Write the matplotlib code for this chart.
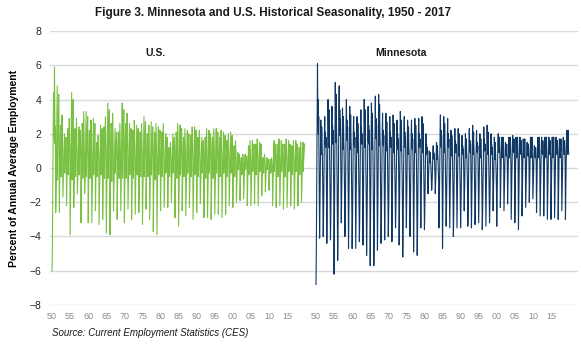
import numpy as np
import matplotlib
matplotlib.use("Agg")
import matplotlib.pyplot as plt
from matplotlib import font_manager

# Monthly employment as percent of annual average, one row of 12 months per year
US_1950S = [
    -6.0, -4.7, -2.0, 0.5, 2.2, 4.4, 1.8, 3.5, 5.9, 3.2, 1.4, 2.4,
    -2.6, -1.6, -0.7, 1.0, 2.9, 4.8, -0.7, 1.2, 2.2, 3.4, 4.3, 2.4,
    -2.6, -1.2, -0.3, 1.2, 2.5, 2.2, -0.5, 0.9, 1.9, 3.1, 2.2, 0.9,
    -1.7, -1.0, -0.4, 0.4, 1.2, 2.0, -0.3, 0.5, 0.9, 1.4, 1.8, 1.0,
    -2.2, -1.0, -0.2, 1.2, 2.3, 2.0, -0.4, 0.9, 1.7, 2.9, 2.0, 0.9,
    -3.9, -2.3, -1.0, 0.9, 2.6, 4.4, -0.7, 1.1, 2.0, 3.1, 4.0, 2.2,
    -2.3, -1.0, -0.2, 1.2, 2.3, 2.0, -0.5, 0.9, 1.7, 2.9, 2.0, 0.9,
    -1.5, -0.9, -0.4, 0.5, 1.4, 2.4, -0.4, 0.6, 1.1, 1.7, 2.2, 1.2,
    -3.2, -1.4, -0.3, 1.3, 2.6, 2.3, -0.6, 1.0, 2.0, 3.3, 2.3, 1.0,
    -1.5, -0.9, -0.4, 0.7, 2.0, 3.3, -0.5, 0.8, 1.5, 2.3, 3.0, 1.7,
]
US_1960S = [
    -3.2, -1.4, -0.3, 1.1, 2.2, 2.0, -0.6, 0.8, 1.7, 2.8, 2.0, 0.8,
    -3.2, -1.9, -0.8, 0.6, 1.7, 2.9, -0.4, 0.7, 1.3, 2.0, 2.6, 1.5,
    -2.5, -1.1, -0.3, 0.8, 1.5, 1.3, -0.5, 0.6, 1.1, 1.9, 1.3, 0.6,
    -3.3, -2.0, -0.8, 0.5, 1.5, 2.5, -0.4, 0.6, 1.1, 1.8, 2.3, 1.3,
    -3.0, -1.4, -0.3, 1.2, 2.4, 2.1, -0.6, 0.9, 1.8, 3.0, 2.1, 0.9,
    -3.8, -2.3, -1.0, 0.8, 2.3, 3.8, -0.6, 1.0, 1.7, 2.7, 3.4, 1.9,
    -3.9, -1.8, -0.4, 1.3, 2.6, 2.2, -0.8, 1.0, 1.9, 3.2, 2.2, 1.0,
    -2.5, -1.5, -0.6, 0.5, 1.4, 2.3, -0.3, 0.6, 1.0, 1.6, 2.1, 1.2,
    -3.0, -1.4, -0.3, 1.0, 2.1, 1.8, -0.6, 0.8, 1.6, 2.6, 1.8, 0.8,
    -2.5, -1.5, -0.6, 0.8, 2.3, 3.8, -0.6, 1.0, 1.7, 2.7, 3.4, 1.9,
]
US_1970S = [
    -3.2, -1.4, -0.3, 1.3, 2.6, 2.2, -0.6, 1.0, 1.9, 3.2, 2.2, 1.0,
    -2.4, -1.4, -0.6, 0.5, 1.6, 2.6, -0.4, 0.7, 1.2, 1.8, 2.3, 1.3,
    -3.0, -1.4, -0.3, 1.1, 2.2, 2.0, -0.6, 0.8, 1.7, 2.8, 2.0, 0.8,
    -2.7, -1.6, -0.7, 0.5, 1.5, 2.5, -0.4, 0.6, 1.1, 1.8, 2.3, 1.3,
    -2.6, -1.2, -0.3, 1.0, 2.1, 1.8, -0.5, 0.8, 1.6, 2.6, 1.8, 0.8,
    -3.3, -2.0, -0.8, 0.6, 1.8, 3.0, -0.5, 0.8, 1.4, 2.1, 2.7, 1.5,
    -2.4, -1.1, -0.2, 1.0, 2.0, 1.8, -0.5, 0.8, 1.5, 2.5, 1.8, 0.8,
    -3.0, -1.8, -0.8, 0.5, 1.6, 2.7, -0.4, 0.7, 1.2, 1.9, 2.4, 1.4,
    -3.7, -1.7, -0.4, 1.0, 2.1, 1.8, -0.7, 0.8, 1.6, 2.6, 1.8, 0.8,
    -3.9, -2.3, -1.0, 0.5, 1.4, 2.4, -0.4, 0.6, 1.1, 1.7, 2.2, 1.2,
]
US_1980S = [
    -2.5, -1.1, -0.3, 1.0, 2.1, 1.8, -0.5, 0.8, 1.6, 2.6, 1.8, 0.8,
    -2.3, -1.4, -0.6, 0.4, 1.2, 2.0, -0.3, 0.5, 0.9, 1.4, 1.8, 1.0,
    -2.3, -1.0, -0.2, 0.6, 1.2, 1.1, -0.5, 0.5, 0.9, 1.5, 1.1, 0.5,
    -2.0, -1.2, -0.5, 0.4, 1.2, 2.0, -0.3, 0.5, 0.9, 1.4, 1.8, 1.0,
    -2.9, -1.3, -0.3, 1.0, 2.1, 1.8, -0.6, 0.8, 1.6, 2.6, 1.8, 0.8,
    -3.4, -2.0, -0.9, 0.5, 1.5, 2.5, -0.4, 0.6, 1.1, 1.8, 2.3, 1.3,
    -2.5, -1.1, -0.3, 0.9, 1.8, 1.6, -0.5, 0.7, 1.4, 2.3, 1.6, 0.7,
    -2.8, -1.7, -0.7, 0.4, 1.3, 2.2, -0.3, 0.6, 1.0, 1.5, 2.0, 1.1,
    -2.3, -1.0, -0.2, 1.0, 1.9, 1.7, -0.5, 0.7, 1.4, 2.4, 1.7, 0.7,
    -3.0, -1.8, -0.8, 0.5, 1.4, 2.4, -0.4, 0.6, 1.1, 1.7, 2.2, 1.2,
]
US_1990S = [
    -2.6, -1.2, -0.3, 0.9, 1.8, 1.5, -0.5, 0.7, 1.3, 2.2, 1.5, 0.7,
    -2.1, -1.3, -0.5, 0.4, 1.1, 1.8, -0.3, 0.5, 0.8, 1.3, 1.6, 0.9,
    -2.9, -1.3, -0.3, 0.9, 1.8, 1.6, -0.6, 0.7, 1.4, 2.3, 1.6, 0.7,
    -2.9, -1.7, -0.7, 0.4, 1.3, 2.2, -0.3, 0.6, 1.0, 1.5, 2.0, 1.1,
    -3.0, -1.4, -0.3, 0.9, 1.8, 1.6, -0.6, 0.7, 1.4, 2.3, 1.6, 0.7,
    -2.7, -1.6, -0.7, 0.5, 1.4, 2.3, -0.3, 0.6, 1.0, 1.6, 2.1, 1.2,
    -2.7, -1.2, -0.3, 0.9, 1.8, 1.5, -0.5, 0.7, 1.3, 2.2, 1.5, 0.7,
    -2.9, -1.7, -0.7, 0.4, 1.3, 2.1, -0.3, 0.5, 0.9, 1.5, 1.9, 1.1,
    -2.7, -1.2, -0.3, 0.8, 1.6, 1.4, -0.5, 0.6, 1.2, 2.0, 1.4, 0.6,
    -2.2, -1.3, -0.6, 0.4, 1.3, 2.1, -0.3, 0.5, 0.9, 1.5, 1.9, 1.1,
]
US_2000S = [
    -2.3, -1.0, -0.2, 0.6, 1.3, 1.1, -0.5, 0.5, 1.0, 1.6, 1.1, 0.5,
    -2.0, -1.2, -0.5, 0.2, 0.5, 0.9, -0.1, 0.2, 0.4, 0.6, 0.8, 0.5,
    -1.9, -0.9, -0.2, 0.3, 0.6, 0.6, -0.4, 0.2, 0.5, 0.8, 0.6, 0.2,
    -1.8, -1.1, -0.5, 0.2, 0.5, 0.8, -0.1, 0.2, 0.4, 0.6, 0.7, 0.4,
    -2.2, -1.0, -0.2, 0.6, 1.3, 1.1, -0.4, 0.5, 1.0, 1.6, 1.1, 0.5,
    -2.2, -1.3, -0.6, 0.3, 1.0, 1.6, -0.2, 0.4, 0.7, 1.1, 1.4, 0.8,
    -2.1, -0.9, -0.2, 0.7, 1.4, 1.2, -0.4, 0.5, 1.0, 1.7, 1.2, 0.5,
    -2.2, -1.3, -0.6, 0.3, 0.9, 1.5, -0.2, 0.4, 0.7, 1.1, 1.4, 0.8,
    -1.6, -0.7, -0.2, 0.3, 0.6, 0.6, -0.3, 0.2, 0.5, 0.8, 0.6, 0.2,
    -1.4, -0.8, -0.4, 0.1, 0.4, 0.6, -0.1, 0.2, 0.3, 0.4, 0.5, 0.3,
]
US_2010S = [
    -1.3, -0.6, -0.1, 0.2, 0.5, 0.4, -0.3, 0.2, 0.4, 0.6, 0.4, 0.2,
    -2.2, -1.3, -0.6, 0.3, 1.0, 1.6, -0.2, 0.4, 0.7, 1.1, 1.4, 0.8,
    -2.3, -1.0, -0.2, 0.7, 1.4, 1.2, -0.5, 0.5, 1.0, 1.7, 1.2, 0.5,
    -2.2, -1.3, -0.6, 0.3, 1.0, 1.6, -0.2, 0.4, 0.7, 1.1, 1.4, 0.8,
    -2.4, -1.1, -0.2, 0.7, 1.4, 1.2, -0.5, 0.5, 1.0, 1.7, 1.2, 0.5,
    -2.3, -1.4, -0.6, 0.3, 1.0, 1.6, -0.2, 0.4, 0.7, 1.1, 1.4, 0.8,
    -2.2, -1.0, -0.2, 0.6, 1.3, 1.1, -0.4, 0.5, 1.0, 1.6, 1.1, 0.5,
    -2.4, -1.4, -0.6, 0.3, 1.0, 1.6, -0.2, 0.4, 0.7, 1.1, 1.4, 0.8,
    -2.2, -1.0, -0.2, 0.6, 1.2, 1.1, -0.4, 0.5, 0.9, 1.5, 1.1, 0.5,
    -2.0, -1.2, -0.5, 0.3, 0.9, 1.5, -0.2, 0.4, 0.7, 1.1, 1.3, 1.4,
]

MN_1950S = [
    -6.8, -5.0, -2.0, 1.5, 4.5, 6.1, 2.5, 4.0, 2.0, 3.0, 0.5, -2.5,
    -4.1, -2.5, -0.8, 1.4, 2.8, 1.7, 0.8, 2.4, 1.4, 0.8, -0.4, -2.1,
    -4.0, -3.0, -1.4, 0.8, 2.1, 3.0, 1.4, 2.1, 1.2, 1.8, 0.5, -1.6,
    -4.4, -2.6, -0.9, 2.0, 4.0, 2.4, 1.2, 3.4, 2.0, 1.2, -0.4, -2.2,
    -4.2, -3.2, -1.5, 0.9, 2.5, 3.6, 1.6, 2.5, 1.4, 2.2, 0.5, -1.7,
    -6.2, -3.7, -1.2, 2.5, 5.0, 3.0, 1.5, 4.3, 2.5, 1.5, -0.6, -3.1,
    -5.4, -4.1, -1.9, 1.2, 3.4, 4.8, 2.2, 3.4, 1.9, 2.9, 0.7, -2.2,
    -3.2, -1.9, -0.6, 1.8, 3.5, 2.1, 1.1, 3.0, 1.8, 1.1, -0.3, -1.6,
    -4.0, -3.0, -1.4, 1.0, 2.8, 4.0, 1.8, 2.8, 1.6, 2.4, 0.6, -1.6,
    -4.7, -2.8, -0.9, 1.8, 3.6, 2.2, 1.1, 3.1, 1.8, 1.1, -0.5, -2.4,
]
MN_1960S = [
    -4.7, -3.5, -1.6, 0.8, 2.1, 3.0, 1.4, 2.1, 1.2, 1.8, 0.5, -1.9,
    -4.7, -2.8, -0.9, 1.5, 3.0, 1.8, 0.9, 2.6, 1.5, 0.9, -0.5, -2.4,
    -4.3, -3.2, -1.5, 0.9, 2.4, 3.4, 1.5, 2.4, 1.4, 2.0, 0.5, -1.7,
    -4.5, -2.7, -0.9, 2.0, 4.0, 2.4, 1.2, 3.4, 2.0, 1.2, -0.5, -2.3,
    -5.1, -3.8, -1.8, 0.9, 2.5, 3.6, 1.6, 2.5, 1.4, 2.2, 0.5, -2.0,
    -5.7, -3.4, -1.1, 1.9, 3.8, 2.3, 1.1, 3.2, 1.9, 1.1, -0.6, -2.9,
    -5.7, -4.3, -2.0, 1.1, 2.9, 4.2, 1.9, 2.9, 1.7, 2.5, 0.6, -2.3,
    -4.8, -2.9, -1.0, 2.2, 4.3, 2.6, 1.3, 3.7, 2.2, 1.3, -0.5, -2.4,
    -4.4, -3.3, -1.5, 0.8, 2.2, 3.2, 1.4, 2.2, 1.3, 1.9, 0.5, -1.8,
    -4.2, -2.5, -0.8, 1.6, 3.2, 1.9, 1.0, 2.7, 1.6, 1.0, -0.4, -2.1,
]
MN_1970S = [
    -4.0, -3.0, -1.4, 0.8, 2.1, 3.0, 1.4, 2.1, 1.2, 1.8, 0.5, -1.6,
    -4.3, -2.6, -0.9, 1.6, 3.1, 1.9, 0.9, 2.6, 1.6, 0.9, -0.4, -2.2,
    -3.5, -2.6, -1.2, 0.7, 2.0, 2.8, 1.3, 2.0, 1.1, 1.7, 0.4, -1.4,
    -4.5, -2.7, -0.9, 1.7, 3.3, 2.0, 1.0, 2.8, 1.7, 1.0, -0.5, -2.3,
    -5.2, -3.9, -1.8, 0.8, 2.1, 3.0, 1.4, 2.1, 1.2, 1.8, 0.5, -2.1,
    -3.5, -2.1, -0.7, 1.4, 2.8, 1.7, 0.8, 2.4, 1.4, 0.8, -0.4, -1.8,
    -4.0, -3.0, -1.4, 0.7, 2.0, 2.8, 1.3, 2.0, 1.1, 1.7, 0.4, -1.6,
    -4.9, -2.9, -1.0, 1.5, 2.9, 1.7, 0.9, 2.5, 1.5, 0.9, -0.5, -2.5,
    -5.1, -3.8, -1.8, 0.7, 2.0, 2.9, 1.3, 2.0, 1.2, 1.7, 0.4, -2.0,
    -3.5, -2.1, -0.7, 1.5, 3.0, 1.8, 0.9, 2.6, 1.5, 0.9, -0.4, -1.8,
]
MN_1980S = [
    -3.6, -2.7, -1.3, 0.5, 1.4, 2.0, 0.9, 1.4, 0.8, 1.2, 0.3, -1.4,
    -1.5, -0.9, -0.3, 0.5, 1.0, 0.6, 0.3, 0.9, 0.5, 0.3, -0.2, -0.8,
    -1.3, -1.0, -0.5, 0.3, 0.9, 1.3, 0.6, 0.9, 0.5, 0.8, 0.2, -0.5,
    -1.5, -0.9, -0.3, 0.8, 1.5, 0.9, 0.5, 1.3, 0.8, 0.5, -0.2, -0.8,
    -3.5, -2.6, -1.2, 0.8, 2.2, 3.1, 1.4, 2.2, 1.2, 1.9, 0.5, -1.4,
    -4.7, -2.8, -0.9, 1.5, 3.0, 1.8, 0.9, 2.6, 1.5, 0.9, -0.5, -2.4,
    -3.4, -2.6, -1.2, 0.7, 2.0, 2.9, 1.3, 2.0, 1.2, 1.7, 0.4, -1.4,
    -3.5, -2.1, -0.7, 1.1, 2.2, 1.3, 0.7, 1.9, 1.1, 0.7, -0.4, -1.8,
    -4.0, -3.0, -1.4, 0.6, 1.6, 2.3, 1.0, 1.6, 0.9, 1.4, 0.3, -1.6,
    -3.5, -2.1, -0.7, 1.2, 2.3, 1.4, 0.7, 2.0, 1.2, 0.7, -0.4, -1.8,
]
MN_1990S = [
    -3.5, -2.6, -1.2, 0.5, 1.3, 1.9, 0.9, 1.3, 0.8, 1.1, 0.3, -1.4,
    -2.5, -1.5, -0.5, 1.0, 2.0, 1.2, 0.6, 1.7, 1.0, 0.6, -0.3, -1.3,
    -3.4, -2.6, -1.2, 0.6, 1.6, 2.3, 1.0, 1.6, 0.9, 1.4, 0.3, -1.4,
    -3.5, -2.1, -0.7, 1.3, 2.5, 1.5, 0.8, 2.1, 1.3, 0.8, -0.4, -1.8,
    -3.3, -2.5, -1.2, 0.6, 1.5, 2.2, 1.0, 1.5, 0.9, 1.3, 0.3, -1.3,
    -3.2, -1.9, -0.6, 1.0, 2.0, 1.2, 0.6, 1.7, 1.0, 0.6, -0.3, -1.6,
    -3.6, -2.7, -1.3, 0.6, 1.7, 2.4, 1.1, 1.7, 1.0, 1.4, 0.4, -1.4,
    -3.4, -2.0, -0.7, 1.3, 2.5, 1.5, 0.8, 2.1, 1.3, 0.8, -0.3, -1.7,
    -3.2, -2.4, -1.1, 0.5, 1.4, 2.0, 0.9, 1.4, 0.8, 1.2, 0.3, -1.3,
    -2.5, -1.5, -0.5, 0.9, 1.8, 1.1, 0.5, 1.5, 0.9, 0.5, -0.3, -1.3,
]
MN_2000S = [
    -3.4, -2.0, -0.9, 0.6, 1.6, 2.0, 1.0, 1.4, 0.9, 1.8, 1.2, 0.4,
    -2.3, -1.2, -0.3, 0.9, 1.8, 1.3, 0.6, 1.4, 1.1, 1.8, 0.9, 0.2,
    -2.5, -1.5, -0.6, 0.5, 1.2, 1.5, 0.8, 1.1, 0.7, 1.4, 0.9, 0.3,
    -2.1, -1.1, -0.3, 0.9, 1.8, 1.3, 0.6, 1.4, 1.1, 1.8, 0.9, 0.2,
    -3.0, -1.8, -0.8, 0.6, 1.5, 1.9, 1.0, 1.3, 0.9, 1.7, 1.1, 0.4,
    -3.2, -1.6, -0.5, 0.9, 1.8, 1.3, 0.6, 1.4, 1.1, 1.8, 0.9, 0.2,
    -3.6, -2.2, -0.9, 0.5, 1.4, 1.8, 0.9, 1.3, 0.8, 1.6, 1.1, 0.4,
    -2.8, -1.4, -0.4, 0.9, 1.7, 1.2, 0.6, 1.4, 1.0, 1.7, 0.9, 0.2,
    -2.3, -1.4, -0.6, 0.5, 1.2, 1.5, 0.8, 1.1, 0.7, 1.4, 0.9, 0.3,
    -2.0, -1.0, -0.3, 0.9, 1.8, 1.3, 0.6, 1.4, 1.1, 1.8, 0.9, 0.2,
]
MN_2010S = [
    -1.8, -1.1, -0.5, 0.4, 1.0, 1.3, 0.7, 0.9, 0.6, 1.2, 0.8, 0.3,
    -2.6, -1.3, -0.4, 0.9, 1.8, 1.3, 0.6, 1.4, 1.1, 1.8, 0.9, 0.2,
    -2.8, -1.7, -0.7, 0.5, 1.4, 1.8, 0.9, 1.3, 0.8, 1.6, 1.1, 0.4,
    -2.8, -1.4, -0.4, 0.9, 1.8, 1.3, 0.6, 1.4, 1.1, 1.8, 0.9, 0.2,
    -3.0, -1.8, -0.8, 0.5, 1.4, 1.8, 0.9, 1.3, 0.8, 1.6, 1.1, 0.4,
    -3.0, -1.5, -0.5, 0.9, 1.8, 1.3, 0.6, 1.4, 1.1, 1.8, 0.9, 0.2,
    -2.9, -1.7, -0.7, 0.5, 1.4, 1.8, 0.9, 1.3, 0.8, 1.6, 1.1, 0.4,
    -3.0, -1.5, -0.5, 0.9, 1.7, 1.2, 0.6, 1.4, 1.0, 1.7, 0.9, 0.2,
    -2.5, -1.5, -0.6, 0.5, 1.4, 1.8, 0.9, 1.3, 0.8, 1.6, 1.1, 0.4,
    -3.0, -1.5, -0.5, 1.1, 2.2, 1.5, 0.8, 1.8, 1.3, 2.2, 1.1, 0.8,
]

FIRST_YEAR = 1950
TICK_YEARS = [1950, 1955, 1960, 1965, 1970, 1975, 1980, 1985,
              1990, 1995, 2000, 2005, 2010, 2015]
TICK_LABELS = ["50", "55", "60", "65", "70", "75", "80", "85",
               "90", "95", "00", "05", "10", "15"]
PANEL_NAMES = ["U.S.", "Minnesota"]

us = np.array(US_1950S + US_1960S + US_1970S + US_1980S
              + US_1990S + US_2000S + US_2010S)
mn = np.array(MN_1950S + MN_1960S + MN_1970S + MN_1980S
              + MN_1990S + MN_2000S + MN_2010S)

# both series share one category axis, Minnesota placed after a short gap
MN_START = 876
us_x = np.arange(len(us))
mn_x = MN_START + np.arange(len(mn))


def pick_font(*names):
    have = {f.name for f in font_manager.fontManager.ttflist}
    for n in names:
        if n in have:
            return n
    return "DejaVu Sans"


SANS = pick_font("Liberation Sans", "Arial")
NARROW = pick_font("Liberation Sans Narrow", "Arial Narrow", "Liberation Sans")

fig = plt.figure(figsize=(5.81, 3.45), dpi=100)
ax = fig.add_axes([0.086, 0.116, 0.909, 0.794])

ax.plot(us_x, us, color="#7ac143", lw=0.8)
ax.plot(mn_x, mn, color="#0f3865", lw=0.8)

ax.set_ylim(-8, 8)
ax.set_xlim(-7, 1746)
ax.set_yticks(np.arange(-8, 9, 2))
ax.yaxis.grid(True, color="#d9d9d9", lw=1.0)
ax.set_axisbelow(True)
for s in ax.spines.values():
    s.set_visible(False)

tick_idx = [(y - FIRST_YEAR) * 12 for y in TICK_YEARS]
ax.set_xticks(tick_idx + [MN_START + t for t in tick_idx])
ax.set_xticklabels(TICK_LABELS + TICK_LABELS, fontfamily=NARROW,
                   fontsize=6.5, color="#8c8c8c")
ax.tick_params(axis="x", length=0, pad=5)
ax.tick_params(axis="y", length=0, pad=6, labelsize=7.5, labelcolor="#262626")
for lab in ax.get_yticklabels():
    lab.set_fontfamily(SANS)

ax.set_ylabel("Percent of Annual Average Employment", fontfamily=SANS,
              fontsize=7.5, fontweight="bold", labelpad=8)

ax.text(342, 6.7, PANEL_NAMES[0], ha="center", va="center", fontfamily=NARROW,
        fontsize=7.5, fontweight="bold", color="#1a1a1a")
ax.text(1158, 6.7, PANEL_NAMES[1], ha="center", va="center", fontfamily=NARROW,
        fontsize=7.5, fontweight="bold", color="#1a1a1a")

fig.text(0.47, 0.962, "Figure 3. Minnesota and U.S. Historical Seasonality, 1950 - 2017",
         ha="center", va="center", fontfamily=SANS, fontsize=8.5,
         fontweight="bold", color="#1a1a1a")
fig.text(0.089, 0.035, "Source: Current Employment Statistics (CES)",
         ha="left", va="center", fontfamily=SANS, fontsize=7,
         fontstyle="italic", color="#1a1a1a")

fig.savefig("out.png", dpi=100)
